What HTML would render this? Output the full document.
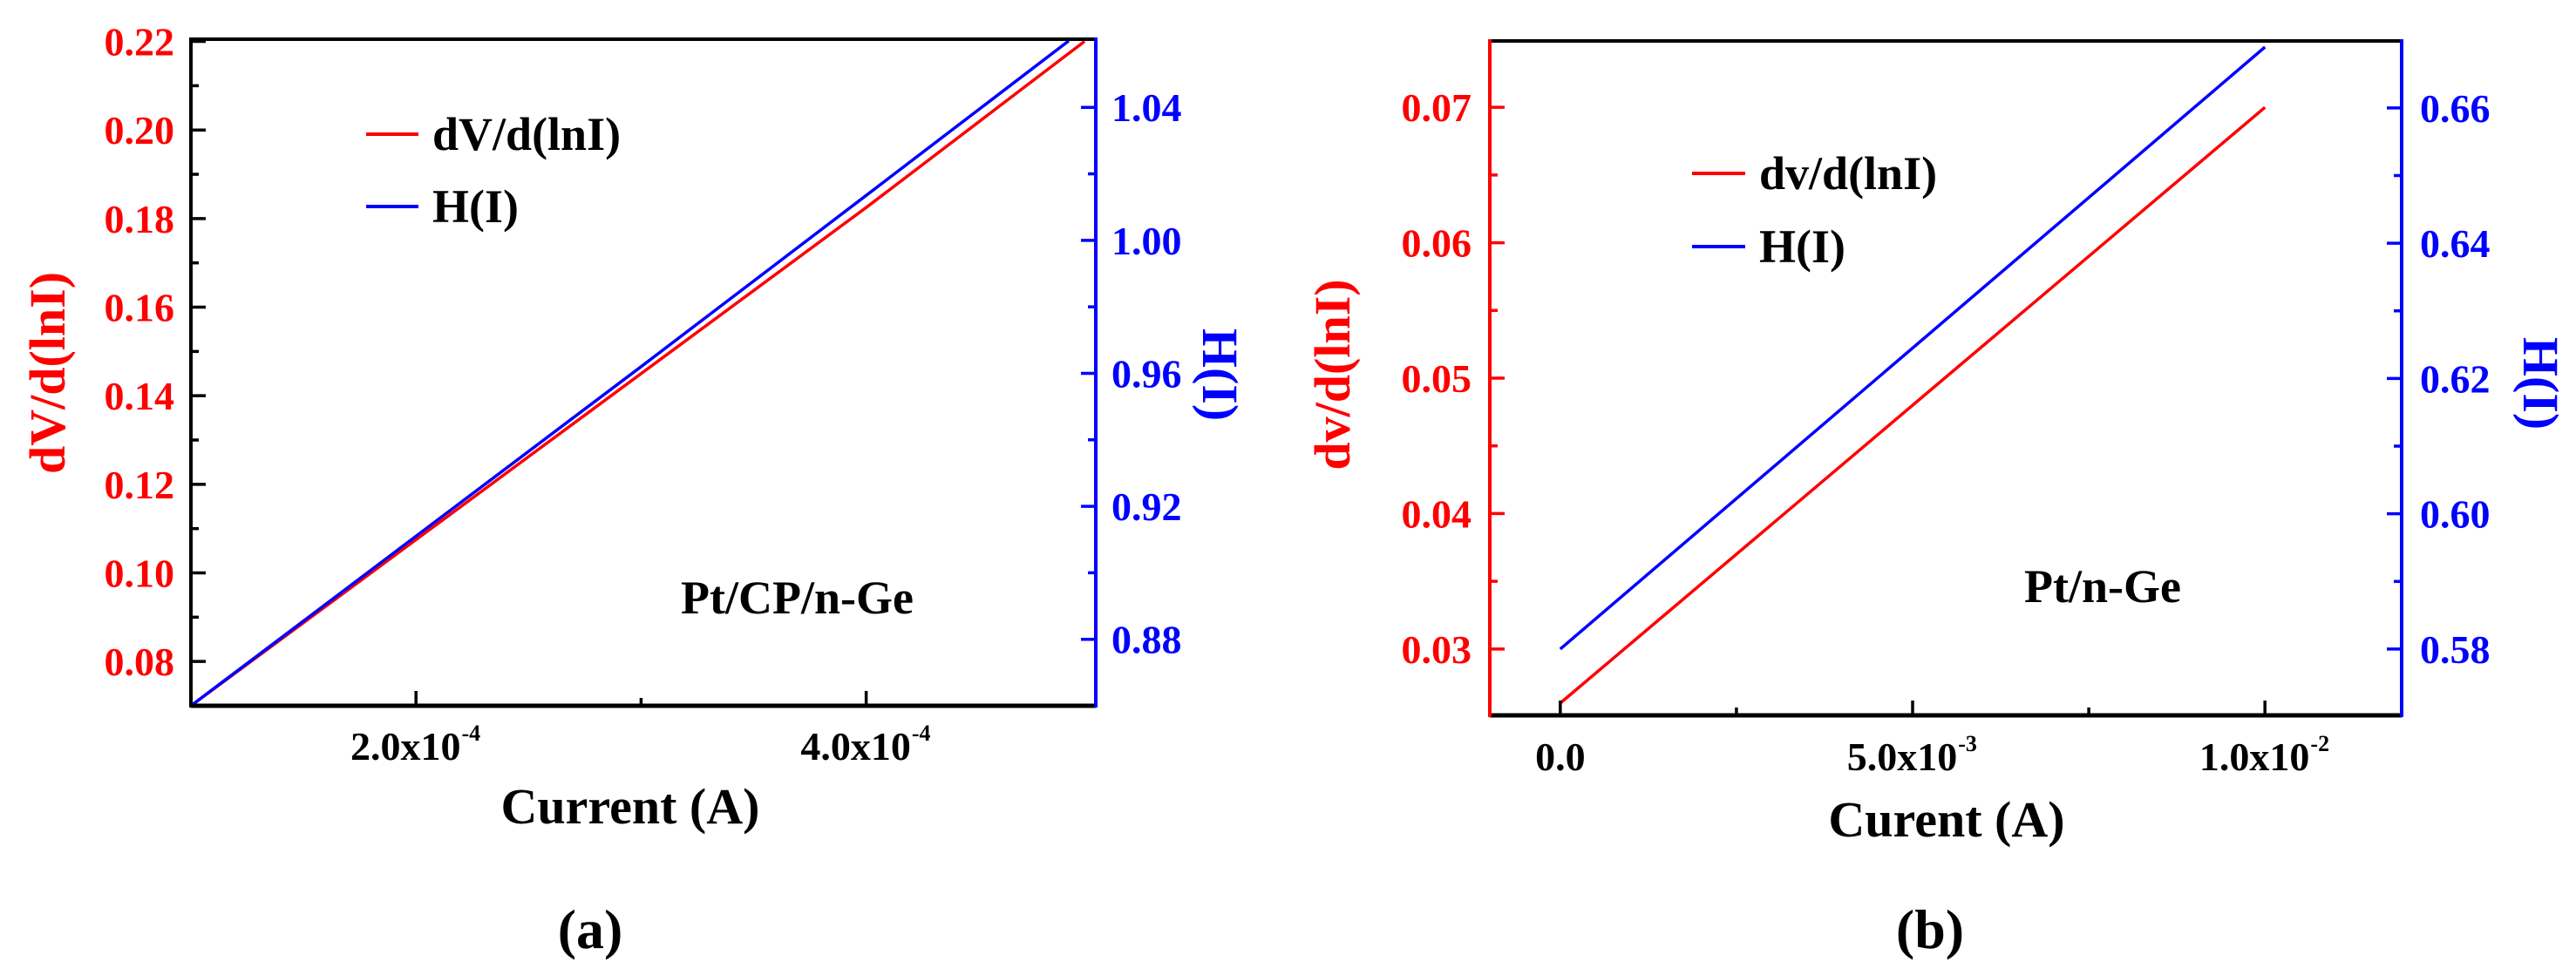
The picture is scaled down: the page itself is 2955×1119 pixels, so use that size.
<!DOCTYPE html>
<html><head><meta charset="utf-8"><style>
html,body{margin:0;padding:0;background:#fff}
svg{display:block}
text{font-family:"Liberation Serif",serif;font-weight:bold}
</style></head><body>
<svg id="fig" width="2955" height="1119" viewBox="0 0 2955 1119" xmlns="http://www.w3.org/2000/svg"></svg>
<script>
// Panel (a) data
const aXTicks = [2e-4, 4e-4];
const aXTickLabels = ["2.0x10", "4.0x10"];
const aXTickExp = ["-4", "-4"];
const aYLeftTicks = [0.08, 0.10, 0.12, 0.14, 0.16, 0.18, 0.20, 0.22];
const aYLeftLabels = ["0.08", "0.10", "0.12", "0.14", "0.16", "0.18", "0.20", "0.22"];
const aYRightTicks = [0.88, 0.92, 0.96, 1.00, 1.04];
const aYRightLabels = ["0.88", "0.92", "0.96", "1.00", "1.04"];
const aCurrent = [1e-4, 2e-4, 3e-4, 4e-4, 4.97e-4];
const aDV = [0.07, 0.1075, 0.145, 0.1825, 0.22];
const aHCurrent = [1e-4, 2e-4, 3e-4, 4e-4, 4.9e-4];
const aH = [0.86, 0.911, 0.962, 1.0135, 1.06];
// Panel (b) data
const bXTicks = [0, 5e-3, 1e-2];
const bXTickLabels = ["0.0", "5.0x10", "1.0x10"];
const bXTickExp = ["", "-3", "-2"];
const bYLeftTicks = [0.03, 0.04, 0.05, 0.06, 0.07];
const bYLeftLabels = ["0.03", "0.04", "0.05", "0.06", "0.07"];
const bYRightTicks = [0.58, 0.60, 0.62, 0.64, 0.66];
const bYRightLabels = ["0.58", "0.60", "0.62", "0.64", "0.66"];
const bCurrent = [0, 0.01];
const bDV = [0.026, 0.070];
const bH = [0.580, 0.669];

const NS = "http://www.w3.org/2000/svg";
const svg = document.getElementById("fig");
function el(tag, attrs, parent, txt) {
  const e = document.createElementNS(NS, tag);
  for (const k in attrs) e.setAttribute(k, attrs[k]);
  if (txt !== undefined) e.textContent = txt;
  (parent || svg).appendChild(e);
  return e;
}
function scale(d0, d1, r0, r1) { return v => r0 + (v - d0) / (d1 - d0) * (r1 - r0); }

function panel(cfg) {
  const g = el("g", {});
  
  
  const {L, R, T, B} = cfg;
  const x = scale(cfg.xd[0], cfg.xd[1], L, R);
  const yl = scale(cfg.yld[0], cfg.yld[1], B, T);
  const yr = scale(cfg.yrd[0], cfg.yrd[1], B, T);
  const pl = (xs, ys, sc) => xs.map((v, i) => x(v).toFixed(1) + "," + sc(ys[i]).toFixed(1)).join(" ");
  const s1 = el("polyline", {points: pl(cfg.x1, cfg.y1, yl), fill: "none", stroke: "#ff0000", "stroke-width": 3.5}, g);
  
  
  const s2 = el("polyline", {points: pl(cfg.x2, cfg.y2, yr), fill: "none", stroke: "#0000ff", "stroke-width": 3.5}, g);
  
  
  const top = el("line", {x1: L, y1: T, x2: R, y2: T, stroke: "#000", "stroke-width": 4}, g);
  
  
  const bot = el("line", {x1: L, y1: B, x2: R, y2: B, stroke: "#000", "stroke-width": 5}, g);
  
  
  const lft = el("line", {x1: L, y1: T - 2, x2: L, y2: B + 2, stroke: cfg.leftAxisColor, "stroke-width": 4}, g);
  
  
  const rgt = el("line", {x1: R, y1: T - 2, x2: R, y2: B + 2, stroke: "#0000ff", "stroke-width": 4}, g);
  
  
  cfg.xTicks.forEach((v, i) => {
    const xx = x(v);
    el("line", {x1: xx, y1: B, x2: xx, y2: B - 17, stroke: "#000", "stroke-width": 3.5}, g);
    const t = el("text", {x: xx + (cfg.xExp[i] ? -12 : 0), y: cfg.xLabY, "text-anchor": "middle", "font-size": 46, fill: "#000", "font-weight": "normal"}, g, cfg.xLabels[i]);
    
    
    if (cfg.xExp[i]) {
      const bb = t.getBBox();
      el("text", {x: bb.x + bb.width + 1, y: cfg.xLabY - 22, "font-size": 26, fill: "#000", "font-weight": "normal"}, g, cfg.xExp[i]);
    }
  });
  cfg.xMinor.forEach(v => el("line", {x1: x(v), y1: B, x2: x(v), y2: B - 9, stroke: "#000", "stroke-width": 3.5}, g));
  cfg.ylTicks.forEach((v, i) => {
    const yy = yl(v);
    el("line", {x1: L, y1: yy, x2: L + 17, y2: yy, stroke: cfg.leftTickColor, "stroke-width": 3.5}, g);
    const t = el("text", {x: cfg.ylLabX, y: yy + 16, "text-anchor": "end", "font-size": 46, fill: "#ff0000", "font-weight": "normal"}, g, cfg.ylLabels[i]);
    
    
  });
  cfg.ylMinor.forEach(v => el("line", {x1: L, y1: yl(v), x2: L + 9, y2: yl(v), stroke: cfg.leftTickColor, "stroke-width": 3.5}, g));
  cfg.yrTicks.forEach((v, i) => {
    const yy = yr(v);
    el("line", {x1: R, y1: yy, x2: R - 17, y2: yy, stroke: "#0000ff", "stroke-width": 3.5}, g);
    const t = el("text", {x: cfg.yrLabX, y: yy + 16, "font-size": 46, fill: "#0000ff", "font-weight": cfg.rightBold ? "bold" : "normal"}, g, cfg.yrLabels[i]);
    
    
  });
  cfg.yrMinor.forEach(v => el("line", {x1: R, y1: yr(v), x2: R - 9, y2: yr(v), stroke: "#0000ff", "stroke-width": 3.5}, g));
  const xt = el("text", {x: cfg.xTitleX, y: cfg.xTitleY, "text-anchor": "middle", "font-size": 58, fill: "#000"}, g, cfg.xTitle);
  
  
  const ylt = el("text", {x: 0, y: 0, "text-anchor": "middle", "font-size": 58, fill: "#ff0000", transform: `translate(${cfg.ylTitleX},${cfg.ylTitleY}) rotate(-90)`}, g, cfg.ylTitle);
  
  
  const yrt = el("text", {x: 0, y: 0, "text-anchor": "middle", "font-size": 58, fill: "#0000ff", transform: `translate(${cfg.yrTitleX},${cfg.yrTitleY}) rotate(90)`}, g, "H(I)");
  
  
  const lg = el("g", {}, g);
  
  
  [[cfg.legY1, "#ff0000", cfg.leg1], [cfg.legY2, "#0000ff", "H(I)"]].forEach(([yy, c, lab]) => {
    el("line", {x1: cfg.legX1, y1: yy, x2: cfg.legX2, y2: yy, stroke: c, "stroke-width": 4}, lg);
    const t = el("text", {x: cfg.legX2 + 16, y: yy + 18, "font-size": 54, fill: "#000"}, lg, lab);
    
    
  });
  const an = el("text", {x: cfg.annX, y: cfg.annY, "font-size": 54, fill: "#000"}, g, cfg.ann);
  
  
  const pl2 = el("text", {x: cfg.capX, y: 1088, "text-anchor": "middle", "font-size": 64, fill: "#000", "font-weight": "normal"}, g, "(");
  
  
  el("tspan", {"font-weight": "bold"}, pl2, cfg.cap);
  el("tspan", {}, pl2, ")");
}

panel({
  name: "panel-a", L: 219, R: 1257, T: 45, B: 810,
  xd: [1e-4, 5.02e-4], yld: [0.07, 0.2205], yrd: [0.86, 1.0605],
  x1: aCurrent, y1: aDV, x2: aHCurrent, y2: aH,
  leftAxisColor: "#000", leftTickColor: "#000",
  xTicks: aXTicks, xLabels: aXTickLabels, xExp: aXTickExp, xMinor: [3e-4], xLabY: 872,
  ylTicks: aYLeftTicks, ylLabels: aYLeftLabels, ylMinor: [0.09, 0.11, 0.13, 0.15, 0.17, 0.19, 0.21], ylLabX: 200,
  yrTicks: aYRightTicks, yrLabels: aYRightLabels, yrMinor: [0.90, 0.94, 0.98, 1.02], yrLabX: 1275, rightBold: true,
  xTitle: "Current (A)", xTitleX: 723, xTitleY: 945,
  ylTitle: "dV/d(lnI)", ylTitleX: 74, ylTitleY: 428,
  yrTitleX: 1380, yrTitleY: 430,
  legX1: 420, legX2: 480, legY1: 154, legY2: 237, leg1: "dV/d(lnI)",
  ann: "Pt/CP/n-Ge", annX: 781, annY: 704, capX: 677, cap: "a"
});
panel({
  name: "panel-b", L: 1709, R: 2755, T: 47, B: 821,
  xd: [-1e-3, 1.194e-2], yld: [0.0251, 0.0749], yrd: [0.5702, 0.6699],
  x1: bCurrent, y1: bDV, x2: bCurrent, y2: bH,
  leftAxisColor: "#ff0000", leftTickColor: "#ff0000",
  xTicks: bXTicks, xLabels: bXTickLabels, xExp: bXTickExp, xMinor: [2.5e-3, 7.5e-3], xLabY: 884,
  ylTicks: bYLeftTicks, ylLabels: bYLeftLabels, ylMinor: [0.035, 0.045, 0.055, 0.065], ylLabX: 1688,
  yrTicks: bYRightTicks, yrLabels: bYRightLabels, yrMinor: [0.59, 0.61, 0.63, 0.65], yrLabX: 2776, rightBold: false,
  xTitle: "Curent (A)", xTitleX: 2233, xTitleY: 960,
  ylTitle: "dv/d(lnI)", ylTitleX: 1548, ylTitleY: 430,
  yrTitleX: 2895, yrTitleY: 440,
  legX1: 1941, legX2: 2002, legY1: 199, legY2: 283, leg1: "dv/d(lnI)",
  ann: "Pt/n-Ge", annX: 2322, annY: 691, capX: 2214, cap: "b"
});
</script>
</body></html>
